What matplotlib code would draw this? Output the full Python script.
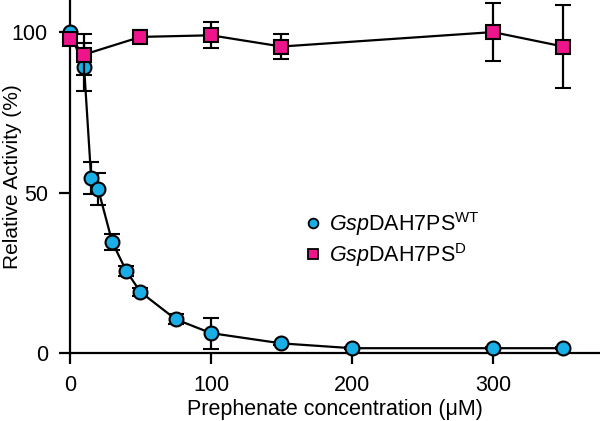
"""Prephenate inhibition of GspDAH7PS variants - relative activity plot."""

import matplotlib
matplotlib.use('Agg')
import matplotlib.pyplot as plt
from matplotlib.lines import Line2D

plt.rcParams['font.family'] = ['Liberation Sans', 'DejaVu Sans']
plt.rcParams['mathtext.fontset'] = 'custom'
plt.rcParams['mathtext.rm'] = 'Liberation Sans'
plt.rcParams['mathtext.it'] = 'Liberation Sans:italic'

# wild type
wt_conc = [0, 10, 15, 20, 30, 40, 50, 75, 100, 150, 200, 300, 350]
wt_act = [100, 89, 54.5, 51, 34.5, 25.5, 19, 10.5, 6.2, 3, 1.5, 1.5, 1.5]
wt_err = [0, 7.5, 5, 5, 2.5, 1.5, 1.2, 1.5, 4.8, 0.5, 0.3, 0.3, 0.3]

# variant D
d_conc = [0, 10, 50, 100, 150, 300, 350]
d_act = [98, 93, 98.5, 99, 95.5, 100, 95.5]
d_err = [1, 6.5, 2, 4, 4, 9, 13]

blue = '#1AAEE6'
pink = '#EE148C'

fig = plt.figure(figsize=(6.0, 4.21), dpi=100)
ax = fig.add_axes([0.1167, 0.1615, 0.8833, 0.8385])

common = dict(ecolor='black', elinewidth=1.6, capsize=6, capthick=1.6,
              color='black', lw=1.6, markersize=10, markeredgecolor='black',
              markeredgewidth=1.5, clip_on=False)
ax.errorbar(wt_conc, wt_act, yerr=wt_err, fmt='-o', markerfacecolor=blue, zorder=3, **common)
ax.errorbar(d_conc, d_act, yerr=d_err, fmt='-s', markerfacecolor=pink, zorder=4, **common)

ax.set_xlim(0, 376)
ax.set_ylim(0, 110)
ax.set_xticks([0, 100, 200, 300])
ax.set_yticks([0, 50, 100])
ax.tick_params(direction='out', length=8, width=1.6, labelsize=15.5, pad=8)
for s in ['top', 'right']:
    ax.spines[s].set_visible(False)
for s in ['left', 'bottom']:
    ax.spines[s].set_linewidth(1.6)

ax.set_xlabel('Prephenate concentration (μM)', fontsize=15.5, labelpad=2)
ax.set_ylabel('Relative Activity (%)', fontsize=15)
ax.yaxis.set_label_coords(-0.09, 0.5)

handles = [
    Line2D([], [], ls='none', marker='o', markersize=7, markerfacecolor=blue,
           markeredgecolor='black', markeredgewidth=1.3),
    Line2D([], [], ls='none', marker='s', markersize=7, markerfacecolor=pink,
           markeredgecolor='black', markeredgewidth=1.3),
]
labels = [r'$\it{Gsp}$DAH7PS$^{\rm WT}$', r'$\it{Gsp}$DAH7PS$^{\rm D}$']
ax.legend(handles, labels, loc='upper left', bbox_to_anchor=(0.497, 0.522),
          bbox_transform=fig.transFigure, frameon=False, fontsize=15.5,
          handlelength=0.6, handletextpad=0.45, labelspacing=0.15, borderaxespad=0)

fig.savefig('out.png', dpi=100)
